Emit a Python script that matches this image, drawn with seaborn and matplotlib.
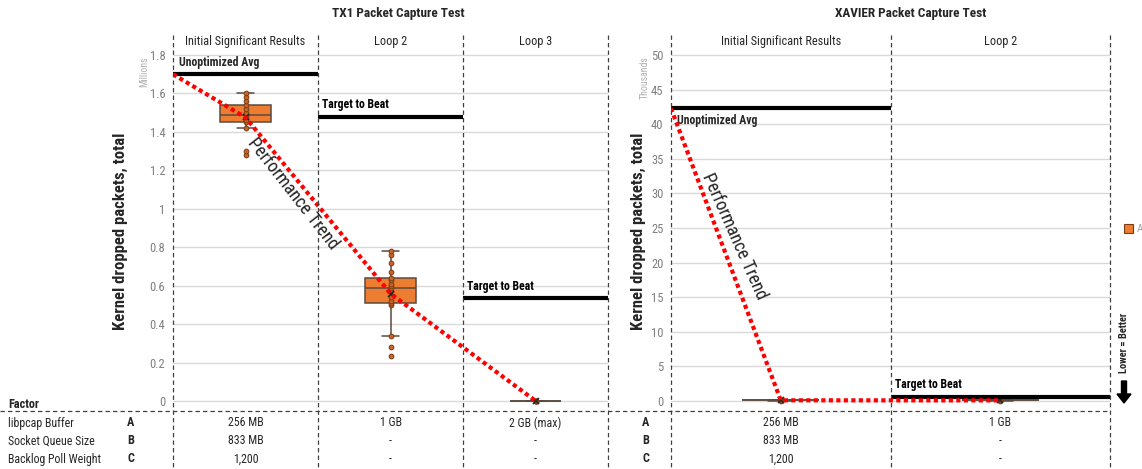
import numpy as np
import pandas as pd
import matplotlib
matplotlib.use("Agg")
import matplotlib.pyplot as plt
import matplotlib.transforms as mtransforms
from matplotlib import font_manager as fm
from matplotlib.patches import Rectangle, FancyArrow
import seaborn as sns

# ---------------- data ----------------
tx1_loops = ["Initial Significant Results", "Loop 2", "Loop 3"]
tx1_initial = [1.28, 1.30, 1.42, 1.45, 1.46, 1.48, 1.49, 1.50, 1.52, 1.54, 1.56, 1.58, 1.60]
tx1_loop2 = [0.235, 0.28, 0.34, 0.50, 0.51, 0.52, 0.54, 0.57, 0.59, 0.60, 0.61, 0.63,
             0.64, 0.67, 0.72, 0.76, 0.78]
tx1_loop3 = [0.0, 0.001, 0.002, 0.001, 0.0]
tx1_unoptimized_avg = 1.70
tx1_targets = [None, 1.48, 0.535]
tx1_yticks = [0, 0.2, 0.4, 0.6, 0.8, 1.0, 1.2, 1.4, 1.6, 1.8]
tx1_yticklabels = ["0", "0.2", "0.4", "0.6", "0.8", "1", "1.2", "1.4", "1.6", "1.8"]

xav_loops = ["Initial Significant Results", "Loop 2"]
xav_initial = [0.05, 0.10, 0.15, 0.12, 0.08]
xav_loop2 = [0.05, 0.08, 0.10, 0.12]
xav_unoptimized_avg = 42.3
xav_targets = [None, 0.6]
xav_yticks = [0, 5, 10, 15, 20, 25, 30, 35, 40, 45, 50]
xav_yticklabels = ["0", "5", "10", "15", "20", "25", "30", "35", "40", "45", "50"]

factor_names = ["libpcap Buffer", "Socket Queue Size", "Backlog Poll Weight"]
factor_codes = ["A", "B", "C"]
tx1_settings = [["256 MB", "833 MB", "1,200"], ["1 GB", "-", "-"], ["2 GB (max)", "-", "-"]]
xav_settings = [["256 MB", "833 MB", "1,200"], ["1 GB", "-", "-"]]

# ---------------- style ----------------
def pick(*names):
    for n in names:
        try:
            fm.findfont(fm.FontProperties(family=n), fallback_to_default=False)
            return n
        except Exception:
            pass
    return "DejaVu Sans"

sns.set_theme(style="white")
NARROW = pick("Roboto Condensed", "IBM Plex Sans Condensed", "Liberation Sans")
plt.rcParams["font.family"] = [NARROW, "DejaVu Sans"]

ORANGE = "#ED7D31"
EDGE = "#5a4a3f"
DOT = "#C8642A"
DOTEDGE = "#7a3d12"
RED = "#FF0000"
GRID = "#d9d9d9"
TICK = "#7f7f7f"
TXT = "#262626"

W, H = 1142, 469
fig = plt.figure(figsize=(W / 100, H / 100), dpi=100)
fig.patch.set_facecolor("white")


def px_axes(x0, x1, ytop, ybot):
    return fig.add_axes([x0 / W, 1 - ybot / H, (x1 - x0) / W, (ybot - ytop) / H])


ax1 = px_axes(173, 608, 38, 411)
ax2 = px_axes(671, 1110, 38, 411)


def panel(ax, loops, groups, unopt, targets, ylim, yticks, yticklabels, unopt_above):
    df = pd.DataFrame({
        "loop": np.repeat(loops, [len(g) for g in groups]),
        "value": np.concatenate([np.asarray(g, float) for g in groups]),
    })
    sns.boxplot(data=df, x="loop", y="value", order=loops, ax=ax, width=0.35,
                color=ORANGE, saturation=1, linecolor=EDGE, linewidth=1.1,
                showfliers=False, showmeans=True, capwidths=0.12,
                meanprops=dict(marker="x", markeredgecolor="#262626",
                               markersize=5, markeredgewidth=1.2, zorder=4))
    sns.stripplot(data=df, x="loop", y="value", order=loops, ax=ax, jitter=False,
                  color=DOT, edgecolor=DOTEDGE, linewidth=0.7, size=3.4, zorder=3)
    n = len(loops)
    ax.set_xlim(-0.5, n - 0.5)
    ax.set_ylim(*ylim)
    ax.hlines(unopt, -0.5, 0.5, color="black", lw=3, zorder=4)
    for i, t in enumerate(targets):
        if t is not None:
            ax.hlines(t, i - 0.5, i + 0.5, color="black", lw=3, zorder=4)
            ax.annotate("Target to Beat", (i - 0.5, t), xytext=(3, 4),
                        textcoords="offset points", ha="left", va="bottom",
                        fontsize=8.5, fontweight="bold", color="black")
    if unopt_above:
        ax.annotate("Unoptimized Avg", (-0.5, unopt), xytext=(4, 4),
                    textcoords="offset points", ha="left", va="bottom",
                    fontsize=8.5, fontweight="bold")
    else:
        ax.annotate("Unoptimized Avg", (-0.5, unopt), xytext=(4, -4),
                    textcoords="offset points", ha="left", va="top",
                    fontsize=8.5, fontweight="bold")
    means = [np.mean(g) for g in groups]
    ax.plot([-0.5] + list(range(n)), [unopt] + means, color=RED, lw=3,
            ls=(0, (1, 0.8)), dash_capstyle="butt", zorder=6)
    ax.set_yticks(yticks)
    ax.set_yticklabels(yticklabels)
    ax.yaxis.grid(True, color=GRID, lw=1)
    ax.set_axisbelow(True)
    ax.tick_params(axis="y", length=0, pad=5.5, labelcolor=TICK, labelsize=9)
    ax.set_xticks([])
    ax.set_xlabel("")
    ax.set_ylabel("")
    for s in ax.spines.values():
        s.set_visible(False)
    ax.patch.set_alpha(0)


panel(ax1, tx1_loops, [tx1_initial, tx1_loop2, tx1_loop3], tx1_unoptimized_avg,
      tx1_targets, (-10 / 192.2, 363 / 192.2), tx1_yticks, tx1_yticklabels, True)
panel(ax2, xav_loops, [xav_initial, xav_loop2], xav_unoptimized_avg,
      xav_targets, (-10 / 6.92, 363 / 6.92), xav_yticks, xav_yticklabels, False)

ax1.text(0.33, 1.08, "Performance Trend", rotation=-52, rotation_mode="anchor",
         ha="center", va="center", fontsize=13, transform=ax1.transData)
ax2.text(-0.21, 23.8, "Performance Trend", rotation=-66, rotation_mode="anchor",
         ha="center", va="center", fontsize=13, transform=ax2.transData)

# ---------------- overlay (pixel coordinates) ----------------
ov = fig.add_axes([0, 0, 1, 1], zorder=10)
ov.set_xlim(0, W)
ov.set_ylim(H, 0)
ov.axis("off")
ov.patch.set_alpha(0)

dash = dict(color="#404040", lw=0.9, ls=(0, (3.5, 2.5)))
for ax, n in ((ax1, 3), (ax2, 2)):
    bt = mtransforms.blended_transform_factory(ax.transData, ov.transData)
    for b in np.arange(n + 1) - 0.5:
        ov.plot([b, b], [35, H], transform=bt, **dash)
ov.plot([0, 1110], [411, 411], **dash)

ov.text(398, 13, "TX1 Packet Capture Test", ha="center", va="center",
        fontsize=9.5, fontweight="bold")
ov.text(911, 13, "XAVIER Packet Capture Test", ha="center", va="center",
        fontsize=9.5, fontweight="bold")

row_y = [423, 441, 459]
for ax, loops, settings in ((ax1, tx1_loops, tx1_settings), (ax2, xav_loops, xav_settings)):
    bt = mtransforms.blended_transform_factory(ax.transData, ov.transData)
    for i, name in enumerate(loops):
        ov.text(i, 41, name, transform=bt, ha="center", va="center", fontsize=8.8,
                color=TXT)
        for j, val in enumerate(settings[i]):
            ov.text(i, row_y[j], val, transform=bt, ha="center", va="center",
                    fontsize=8.6, color=TXT)

ov.text(8, 404, "Factor", ha="left", va="center", fontsize=8.8, fontweight="bold")
for j, (nm, cd) in enumerate(zip(factor_names, factor_codes)):
    ov.text(8, row_y[j], nm, ha="left", va="center", fontsize=8.6, color=TXT)
    ov.text(131, row_y[j], cd, ha="center", va="center", fontsize=8.8, fontweight="bold")
    ov.text(646, row_y[j], cd, ha="center", va="center", fontsize=8.8, fontweight="bold")

for x in (120, 638):
    ov.text(x, 231, "Kernel dropped packets, total", rotation=90, ha="center",
            va="center", fontsize=12, fontweight="bold")
ov.text(144, 72, "Millions", rotation=90, ha="center", va="center", fontsize=7,
        color="#b0b0b0")
ov.text(645, 78, "Thousands", rotation=90, ha="center", va="center", fontsize=7,
        color="#b0b0b0")

ov.text(1124, 343, "Lower = Better", rotation=90, ha="center", va="center",
        fontsize=7.5, fontweight="bold")
ov.add_patch(FancyArrow(1124, 381, 0, 22, width=5, head_width=14, head_length=9,
                        length_includes_head=True, color="black"))

ov.add_patch(Rectangle((1124, 224), 9, 9, facecolor=ORANGE, edgecolor=DOTEDGE, lw=0.8))
ov.text(1137, 229, "A", ha="left", va="center", fontsize=8, color="#a0a0a0")

fig.savefig("out.png", dpi=100, facecolor="white")
